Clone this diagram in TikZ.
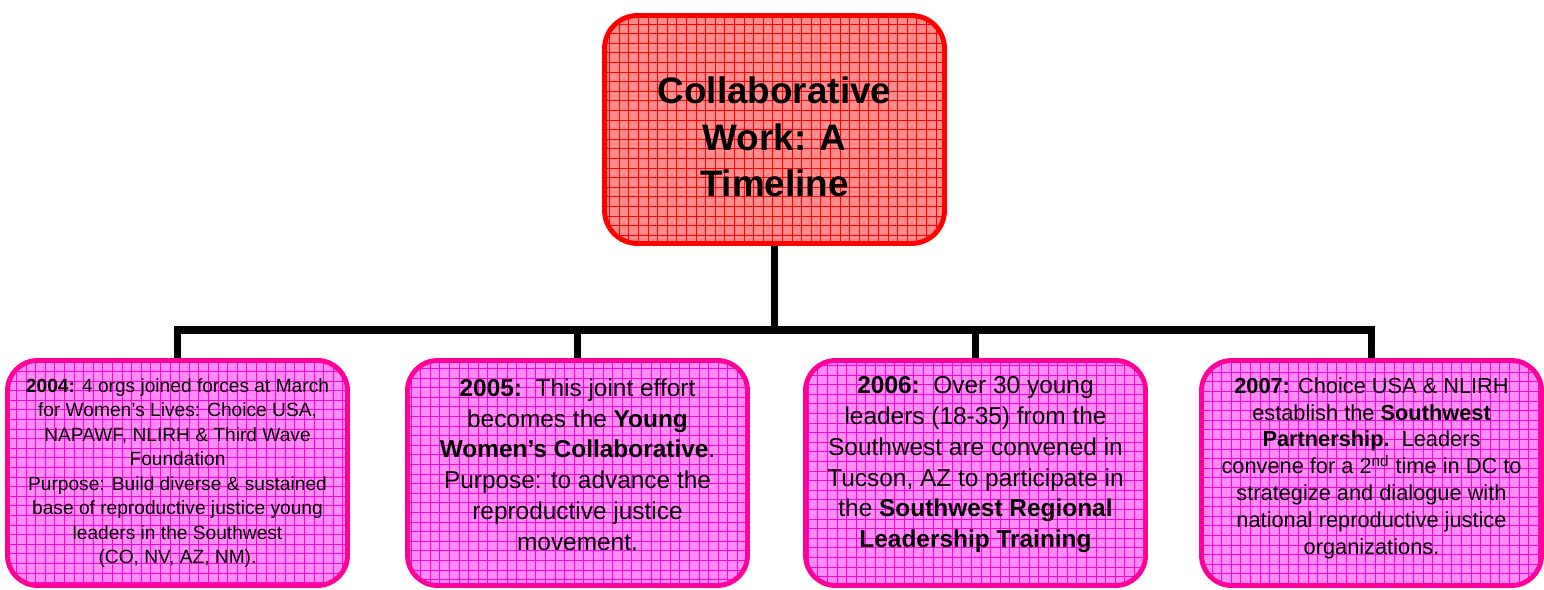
\documentclass[tikz,border=0pt]{standalone}
\usepackage{fontspec}
\setmainfont{Liberation Sans}

\definecolor{titlered}{HTML}{FF0000}
\definecolor{titlefill}{HTML}{FF8C8C}
\definecolor{eventpink}{HTML}{FF0099}
\definecolor{eventfill}{HTML}{FF8CF5}
\definecolor{eventgrid}{HTML}{FF00DD}

\tikzset{
  titlebox/.style={draw=titlered, fill=titlefill, line width=2.8pt,
    rounded corners=0.66cm, minimum width=6.8cm, minimum height=4.56cm,
    align=center, inner sep=0pt, font=\fontsize{21pt}{26.4pt}\selectfont\bfseries,
    path picture={\draw[step=0.192cm, titlered, line width=0.45pt]
      (path picture bounding box.south west) grid (path picture bounding box.north east);}},
  eventbox/.style={draw=eventpink, fill=eventfill, line width=2.8pt,
    rounded corners=0.6cm, minimum width=6.8cm, minimum height=4.5cm,
    align=center, inner sep=0pt,
    path picture={\draw[step=0.192cm, eventgrid, line width=0.45pt]
      (path picture bounding box.south west) grid (path picture bounding box.north east);}},
  trunk/.style={line width=4pt, black}
}

\begin{document}
\begin{tikzpicture}[x=0.02cm, y=-0.02cm]
  \useasboundingbox (0,0) rectangle (1544,589);
  % title
  \node[titlebox, text height=76.7pt] (title) at (774.5,129.5) {Collaborative\\Work: A\\Timeline};
  % timeline boxes
  \node[eventbox, font=\fontsize{10.9pt}{13.9pt}\selectfont] (y2004) at (177.5,473)
    {\textbf{2004:} 4 orgs joined forces at March\\for Women’s Lives: Choice USA,\\NAPAWF, NLIRH \& Third Wave\\Foundation\\Purpose: Build diverse \& sustained\\base of reproductive justice young\\leaders in the Southwest\\(CO, NV, AZ, NM).};
  \node[eventbox, font=\fontsize{13.9pt}{17.6pt}\selectfont, text depth=9.6pt] (y2005) at (577.5,473)
    {\textbf{2005:}\ \ This joint effort\\becomes the \textbf{Young}\\\textbf{Women’s Collaborative}.\\Purpose: to advance the\\reproductive justice\\movement.};
  \node[eventbox, font=\fontsize{13.9pt}{17.6pt}\selectfont, text depth=12.5pt] (y2006) at (975.5,473)
    {\textbf{2006:}\ \ Over 30 young\\leaders (18-35) from the\\Southwest are convened in\\Tucson, AZ to participate in\\the \textbf{Southwest Regional}\\\textbf{Leadership Training}};
  \node[eventbox, font=\fontsize{12.4pt}{15.3pt}\selectfont, text depth=8pt] (y2007) at (1371.5,473)
    {\textbf{2007:} Choice USA \& NLIRH\\establish the \textbf{Southwest}\\\textbf{Partnership.}\ \ Leaders\\convene for a 2\textsuperscript{nd} time in DC to\\strategize and dialogue with\\national reproductive justice\\organizations.};
  % connectors
  \coordinate (hub) at (774.5,330);
  \draw[trunk] (title.south) -- (hub);
  \foreach \n in {y2004,y2005,y2006,y2007}
    \draw[trunk] (hub) -| (\n.north);
\end{tikzpicture}
\end{document}
